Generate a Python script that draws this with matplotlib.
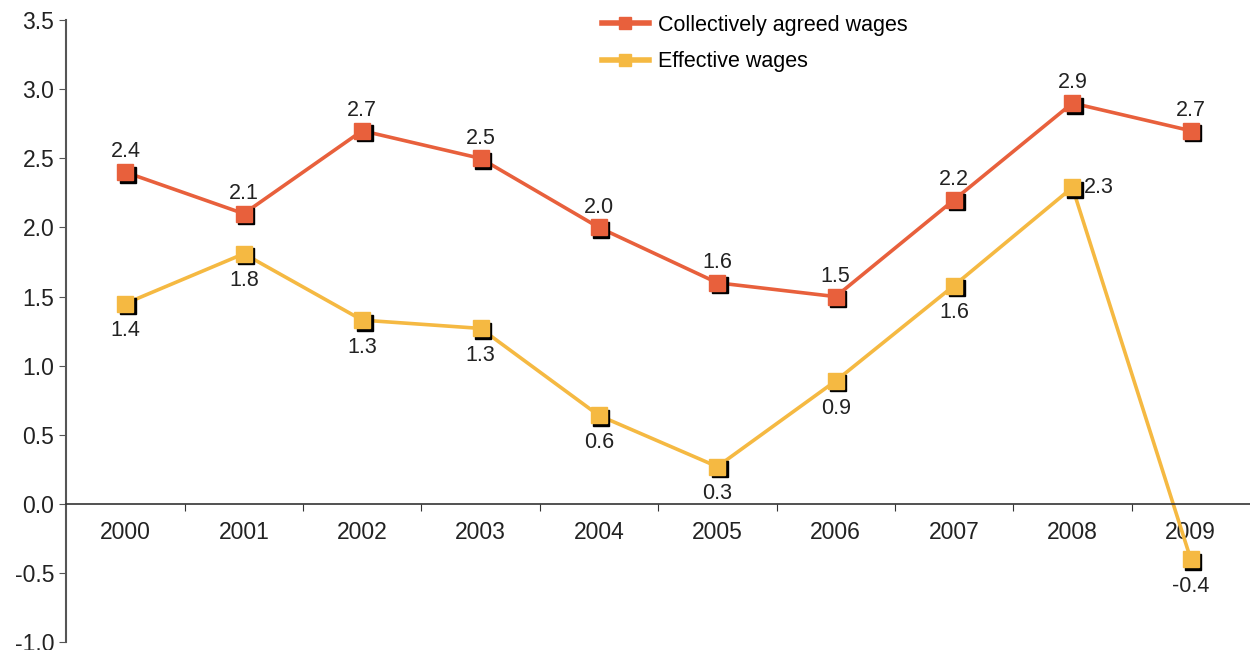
import matplotlib
matplotlib.use("Agg")
import matplotlib.pyplot as plt
import matplotlib.transforms as mtransforms
import numpy as np

years = ["2000", "2001", "2002", "2003", "2004", "2005", "2006", "2007", "2008", "2009"]
collective = [2.4, 2.1, 2.7, 2.5, 2.0, 1.6, 1.5, 2.2, 2.9, 2.7]
effective = [1.45, 1.81, 1.33, 1.27, 0.64, 0.27, 0.89, 1.58, 2.29, -0.40]
collective_labels = ["2.4", "2.1", "2.7", "2.5", "2.0", "1.6", "1.5", "2.2", "2.9", "2.7"]
effective_labels = ["1.4", "1.8", "1.3", "1.3", "0.6", "0.3", "0.9", "1.6", "2.3", "-0.4"]

RED = "#E8603C"
YEL = "#F5B942"
GREY = "#555555"

plt.rcParams["font.family"] = ["Liberation Sans", "DejaVu Sans"]

fig = plt.figure(figsize=(12.5, 6.5), dpi=100)
ax = fig.add_axes([0.053, 0.012, 0.947, 0.957])

x = np.arange(len(years))

# ombre des marqueurs : décalée vers la droite et vers le bas
shadow = mtransforms.offset_copy(ax.transData, fig=fig, x=2.5, y=-2.5, units="dots")

for vals, col, lab in [(collective, RED, "Collectively agreed wages"),
                       (effective, YEL, "Effective wages")]:
    ax.plot(x, vals, color=col, lw=2.6, zorder=2)
    ax.plot(x, vals, ls="none", marker="s", ms=11.5, color="black", transform=shadow, zorder=3)
    ax.plot(x, vals, ls="none", marker="s", ms=11.5, color=col, zorder=4)
    # handle de légende
    ax.plot([], [], color=col, lw=4, marker="s", ms=8, label=lab)

for i, v in enumerate(collective):
    ax.annotate(collective_labels[i], (x[i], v), xytext=(0, 7), textcoords="offset points",
                ha="center", va="bottom", fontsize=15.5, color="#222222", zorder=5)

for i, v in enumerate(effective):
    if i == 8:
        ax.annotate(effective_labels[i], (x[i], v), xytext=(8, 0), textcoords="offset points",
                    ha="left", va="center", fontsize=15.5, color="#222222", zorder=5)
    else:
        ax.annotate(effective_labels[i], (x[i], v), xytext=(0, -12), textcoords="offset points",
                    ha="center", va="top", fontsize=15.5, color="#222222", zorder=5)

ax.set_xlim(-0.5, len(years) - 0.5)
ax.set_ylim(-1.0, 3.5)
ax.set_yticks(np.arange(-1.0, 3.51, 0.5))
ax.set_yticklabels([f"{t:.1f}" for t in np.arange(-1.0, 3.51, 0.5)])

# axe x placé sur y=0, ticks entre les catégories
ax.spines["bottom"].set_position(("data", 0))
ax.spines["top"].set_visible(False)
ax.spines["right"].set_visible(False)
ax.spines["bottom"].set_color("#333333")
ax.spines["left"].set_color(GREY)
ax.spines["left"].set_linewidth(1.5)
ax.spines["bottom"].set_linewidth(1.2)

ax.set_xticks(np.arange(0.5, len(years) - 0.5, 1.0))
ax.set_xticklabels([])
ax.set_xticks(x, minor=True)
ax.set_xticklabels(years, minor=True)
ax.tick_params(axis="x", which="major", direction="out", length=5, color="#333333")
ax.tick_params(axis="x", which="minor", length=0, pad=12, labelsize=16.5, labelcolor="#222222")
ax.tick_params(axis="y", direction="out", length=5, color=GREY, labelsize=16.5, labelcolor="#222222")

ax.legend(loc="upper left", bbox_to_anchor=(0.436, 1.04), frameon=False, fontsize=15.5,
          handlelength=2.2, handletextpad=0.4, labelspacing=0.72)

fig.savefig("out.png", dpi=100)
